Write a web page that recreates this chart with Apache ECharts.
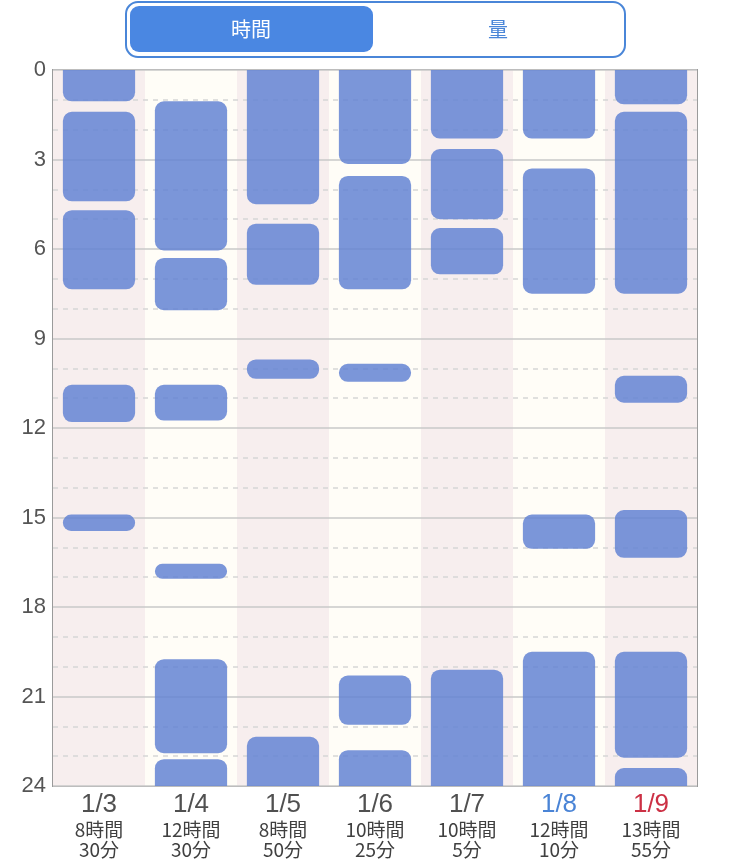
<!DOCTYPE html>
<html>
<head>
<meta charset="utf-8">
<script src="https://cdn.jsdelivr.net/npm/echarts@6/dist/echarts.min.js"></script>
<style>
html,body{margin:0;padding:0;background:#fff;}
#chart{width:750px;height:863px;}
</style>
</head>
<body>
<div id="chart"></div>
<script>
// ---- data ----
const days = ['1/3', '1/4', '1/5', '1/6', '1/7', '1/8', '1/9'];
const totalHours = [8, 12, 8, 10, 10, 12, 13];
const totalMinutes = [30, 30, 50, 25, 5, 10, 55];
const hourTicks = [0, 3, 6, 9, 12, 15, 18, 21, 24];

const sleep_0103 = [[0, 1.05], [1.4, 4.4], [4.7, 7.35], [10.55, 11.8], [14.9, 15.45]];
const sleep_0104 = [[1.05, 6.05], [6.3, 8.05], [10.55, 11.75], [16.55, 17.05], [19.75, 22.9], [23.1, 24]];
const sleep_0105 = [[0, 4.5], [5.15, 7.2], [9.7, 10.35], [22.35, 24]];
const sleep_0106 = [[0, 3.15], [3.55, 7.35], [9.85, 10.45], [20.3, 21.95], [22.8, 24]];
const sleep_0107 = [[0, 2.3], [2.65, 5.0], [5.3, 6.85], [20.1, 24]];
const sleep_0108 = [[0, 2.3], [3.3, 7.5], [14.9, 16.05], [19.5, 24]];
const sleep_0109 = [[0, 1.15], [1.4, 7.5], [10.25, 11.15], [14.75, 16.35], [19.5, 23.05], [23.4, 24]];

const sleepByDay = [sleep_0103, sleep_0104, sleep_0105, sleep_0106, sleep_0107, sleep_0108, sleep_0109];

// ---- build ----
const segData = [];
sleepByDay.forEach((segs, i) => segs.forEach(s => segData.push([i, s[0], s[1]])));

const dateStyleKey = ['d', 'd', 'd', 'd', 'd', 'dBlue', 'dRed'];

const chart = echarts.init(document.getElementById('chart'), null, {renderer: 'canvas'});
const FONT = '"Noto Sans CJK JP", "Noto Sans", sans-serif';
const NUMFONT = '"Liberation Sans", "DejaVu Sans", sans-serif';

chart.setOption({
  animation: false,
  backgroundColor: '#ffffff',
  grid: {
    left: 53, right: 53, top: 70, bottom: 77,
    show: true, borderColor: '#9a9a9a', borderWidth: 2, backgroundColor: 'transparent'
  },
  xAxis: {
    type: 'category',
    data: days,
    z: 0,
    axisLine: {show: false},
    axisTick: {show: false},
    splitArea: {show: true, areaStyle: {color: ['#f7eeee', '#fffdf7']}},
    axisLabel: {
      interval: 0,
      margin: 4,
      fontFamily: FONT,
      formatter: function (v, idx) {
        return '{' + dateStyleKey[idx] + '|' + v + '}\n{s|' + totalHours[idx] + '時間}\n{s|' + totalMinutes[idx] + '分}';
      },
      rich: {
        d: {fontSize: 26, color: '#505050', lineHeight: 30, fontFamily: NUMFONT},
        dBlue: {fontSize: 26, color: '#4a84d6', lineHeight: 30, fontFamily: NUMFONT},
        dRed: {fontSize: 26, color: '#cc3044', lineHeight: 30, fontFamily: NUMFONT},
        s: {fontSize: 19, color: '#404040', lineHeight: 20, fontFamily: FONT}
      }
    }
  },
  yAxis: {
    type: 'value',
    inverse: true,
    z: 1,
    min: hourTicks[0],
    max: hourTicks[hourTicks.length - 1],
    interval: 3,
    axisLine: {show: false},
    axisTick: {show: false},
    axisLabel: {fontSize: 22, color: '#555555', margin: 7, fontFamily: NUMFONT},
    splitLine: {show: true, lineStyle: {color: '#c9c9c9', width: 1.5}},
    minorTick: {show: false, splitNumber: 3},
    minorSplitLine: {show: true, lineStyle: {color: '#d6d6d6', type: [5, 5], width: 1.5}}
  },
  series: [{
    type: 'custom',
    z: 5,
    data: segData,
    encode: {x: 0, y: [1, 2]},
    renderItem: function (params, api) {
      const d = api.value(0);
      const s = api.value(1);
      const e = api.value(2);
      const p1 = api.coord([d, s]);
      const p2 = api.coord([d, e]);
      const w = api.size([1, 0])[0] * 0.785;
      const h = p2[1] - p1[1];
      const rr = Math.min(9, h / 2);
      const rt = s <= 0 ? 0 : rr;
      const rb = e >= 24 ? 0 : rr;
      return {
        type: 'rect',
        shape: {x: p1[0] - w / 2, y: p1[1], width: w, height: h, r: [rt, rt, rb, rb]},
        style: {fill: 'rgba(98,130,211,0.84)'}
      };
    }
  }],
  graphic: [
    {type: 'rect', left: 125, top: 1, shape: {width: 499, height: 55, r: 12},
     style: {fill: '#ffffff', stroke: '#4a86d8', lineWidth: 2}},
    {type: 'rect', left: 130, top: 6, shape: {width: 243, height: 46, r: 9},
     style: {fill: '#4a87e2'}},
    {type: 'text', x: 251, y: 29, style: {text: '時間', fill: '#ffffff', fontSize: 20, fontFamily: FONT, align: 'center', verticalAlign: 'middle'}},
    {type: 'text', x: 498, y: 29, style: {text: '量', fill: '#4a86d8', fontSize: 20, fontFamily: FONT, align: 'center', verticalAlign: 'middle'}}
  ]
});
</script>
</body>
</html>
